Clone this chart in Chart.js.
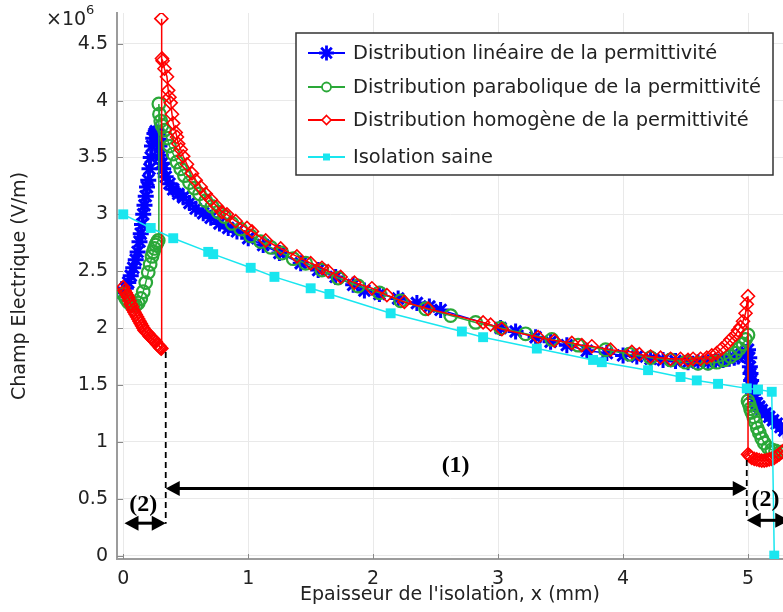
<!DOCTYPE html>
<html>
<head>
<meta charset="utf-8">
<script src="https://cdn.jsdelivr.net/npm/chart.js@4/dist/chart.umd.min.js"></script>
<style>
  html, body { margin: 0; padding: 0; background: #ffffff; }
  #wrap { width: 783px; height: 612px; }
</style>
</head>
<body>
<div id="wrap"><canvas id="c" width="783" height="612"></canvas></div>
<script>
// Electric field across the insulation thickness (values in 10^6 V/m, x in mm)

// Linear permittivity distribution
const linX = [0, 0.02, 0.04, 0.06, 0.08, 0.10, 0.115, 0.13, 0.14, 0.15, 0.16, 0.17, 0.18, 0.19, 0.20, 0.21, 0.22, 0.23, 0.24, 0.25, 0.26, 0.27, 0.28,
  0.285, 0.29, 0.30, 0.31, 0.32, 0.34, 0.37, 0.40, 0.44, 0.48, 0.53, 0.58, 0.64, 0.70, 0.77, 0.84, 0.91, 1.00, 1.12, 1.25, 1.42, 1.56, 1.70, 1.84, 1.93,
  2.05, 2.20, 2.35, 2.45, 2.54, 3.02, 3.14, 3.30, 3.42, 3.55, 3.71, 3.87, 4.00, 4.11, 4.22, 4.32, 4.42, 4.52, 4.60, 4.68, 4.74, 4.80, 4.85, 4.89, 4.92,
  4.95, 4.98, 5.00, 5.01, 5.015, 5.02, 5.025, 5.03, 5.04, 5.05, 5.07, 5.09, 5.11, 5.14, 5.17, 5.20, 5.23, 5.26, 5.29];
const linY = [2.31, 2.35, 2.40, 2.46, 2.53, 2.60, 2.67, 2.76, 2.83, 2.91, 3.00, 3.08, 3.16, 3.24, 3.30, 3.40, 3.50, 3.60, 3.67, 3.71, 3.73, 3.72, 3.70,
  3.66, 3.60, 3.52, 3.45, 3.40, 3.33, 3.27, 3.22, 3.18, 3.15, 3.10, 3.05, 3.01, 2.97, 2.92, 2.88, 2.85, 2.79, 2.73, 2.66, 2.57, 2.51, 2.45, 2.38, 2.33,
  2.30, 2.26, 2.22, 2.19, 2.16, 2.00, 1.97, 1.92, 1.88, 1.85, 1.80, 1.78, 1.76, 1.75, 1.73, 1.72, 1.71, 1.70, 1.70, 1.70, 1.71, 1.72, 1.73, 1.74, 1.75,
  1.77, 1.79, 1.81, 1.74, 1.66, 1.60, 1.54, 1.48, 1.42, 1.38, 1.34, 1.31, 1.28, 1.25, 1.22, 1.19, 1.16, 1.13, 1.10];

// Parabolic permittivity distribution
const parX = [0, 0.02, 0.04, 0.06, 0.08, 0.10, 0.12, 0.14, 0.16, 0.18, 0.20, 0.215, 0.23, 0.24, 0.25, 0.26, 0.27, 0.28,
  0.285, 0.29, 0.30, 0.31, 0.33, 0.35, 0.37, 0.40, 0.43, 0.46, 0.49, 0.53, 0.57, 0.61, 0.66, 0.71, 0.76, 0.81, 0.87, 0.94, 1.02, 1.10, 1.18, 1.27,
  1.36, 1.46, 1.59, 1.72, 1.88, 2.05, 2.22, 2.42, 2.62, 2.82, 3.02, 3.22, 3.43, 3.64, 3.86, 4.05, 4.22, 4.38, 4.50, 4.60, 4.68, 4.75, 4.81, 4.86,
  4.90, 4.93, 4.96, 4.98, 5.00, 5.00, 5.01, 5.02, 5.03, 5.045, 5.06, 5.075, 5.09, 5.11, 5.13, 5.16, 5.19, 5.22, 5.26, 5.30];
const parY = [2.30, 2.26, 2.23, 2.21, 2.20, 2.20, 2.22, 2.26, 2.32, 2.40, 2.49, 2.56, 2.63, 2.67, 2.70, 2.73, 2.75, 2.77,
  3.97, 3.88, 3.82, 3.78, 3.74, 3.67, 3.60, 3.53, 3.46, 3.40, 3.34, 3.28, 3.23, 3.18, 3.12, 3.07, 3.02, 2.98, 2.92, 2.87, 2.81, 2.76, 2.71, 2.66,
  2.61, 2.57, 2.51, 2.44, 2.37, 2.31, 2.24, 2.17, 2.11, 2.05, 2.00, 1.95, 1.90, 1.85, 1.81, 1.77, 1.74, 1.72, 1.70, 1.69, 1.69, 1.70, 1.72, 1.75,
  1.78, 1.82, 1.86, 1.90, 1.94, 1.36, 1.33, 1.29, 1.26, 1.22, 1.17, 1.12, 1.08, 1.03, 0.99, 0.95, 0.93, 0.92, 0.91, 0.91];

// Homogeneous permittivity distribution
const homX = [0, 0.01, 0.02, 0.03, 0.04, 0.05, 0.06, 0.07, 0.08, 0.09, 0.10, 0.11, 0.12, 0.13, 0.14, 0.15, 0.16, 0.17, 0.18, 0.19, 0.20, 0.21,
  0.22, 0.23, 0.24, 0.25, 0.26, 0.27, 0.28, 0.29, 0.295, 0.30, 0.305,
  0.305, 0.31, 0.315, 0.33, 0.35, 0.36, 0.37, 0.38, 0.39, 0.40, 0.42, 0.43, 0.44, 0.46, 0.48, 0.51, 0.55, 0.58, 0.62, 0.66, 0.70, 0.75, 0.79, 0.83,
  0.90, 0.99, 1.03, 1.14, 1.26, 1.39, 1.50, 1.59, 1.64, 1.74, 1.85, 1.99, 2.11, 2.25, 2.44, 2.88, 2.94, 3.03, 3.32, 3.45, 3.59, 3.67, 3.75, 3.90,
  4.07, 4.13, 4.22, 4.30, 4.38, 4.46, 4.52, 4.56, 4.62, 4.67, 4.71, 4.75, 4.79, 4.83, 4.86, 4.90, 4.92, 4.94, 4.96, 4.98, 4.99, 5.00,
  5.00, 5.01, 5.02, 5.03, 5.05, 5.07, 5.09, 5.11, 5.13, 5.15, 5.17, 5.19, 5.21, 5.23, 5.25, 5.27, 5.29];
const homY = [2.36, 2.33, 2.31, 2.29, 2.27, 2.24, 2.21, 2.19, 2.16, 2.14, 2.12, 2.10, 2.08, 2.06, 2.04, 2.02, 2.00, 1.98, 1.97, 1.96, 1.95, 1.93,
  1.92, 1.91, 1.90, 1.89, 1.88, 1.86, 1.85, 1.84, 1.83, 1.825, 1.82,
  4.72, 4.37, 4.35, 4.28, 4.21, 4.09, 4.03, 3.98, 3.88, 3.80, 3.72, 3.68, 3.62, 3.57, 3.51, 3.44, 3.36, 3.30, 3.24, 3.18, 3.13, 3.07, 3.02, 3.00,
  2.94, 2.88, 2.85, 2.77, 2.70, 2.63, 2.57, 2.53, 2.50, 2.45, 2.40, 2.35, 2.29, 2.23, 2.17, 2.05, 2.03, 1.99, 1.92, 1.89, 1.87, 1.85, 1.84, 1.81,
  1.79, 1.77, 1.75, 1.74, 1.73, 1.73, 1.72, 1.73, 1.73, 1.74, 1.76, 1.78, 1.82, 1.86, 1.90, 1.94, 1.98, 2.01, 2.06, 2.13, 2.21, 2.28,
  0.89, 0.88, 0.87, 0.86, 0.85, 0.845, 0.84, 0.835, 0.835, 0.84, 0.845, 0.85, 0.86, 0.875, 0.89, 0.91, 0.93];

// Sound insulation
const sainX = [0, 0.22, 0.40, 0.68, 0.72, 1.02, 1.21, 1.50, 1.65, 2.14, 2.71, 2.88, 3.31, 3.76, 3.83, 4.20, 4.46, 4.59, 4.76, 4.99, 5.08, 5.19, 5.21];
const sainY = [3.00, 2.88, 2.79, 2.67, 2.65, 2.53, 2.45, 2.35, 2.30, 2.13, 1.97, 1.92, 1.82, 1.72, 1.70, 1.63, 1.57, 1.54, 1.51, 1.47, 1.46, 1.44, 0.00];

const seriesNames = [
  'Distribution linéaire de la permittivité',
  'Distribution parabolique de la permittivité',
  'Distribution homogène de la permittivité',
  'Isolation saine'
];

const xTickValues = [0, 1, 2, 3, 4, 5];
const xTickLabels = ['0', '1', '2', '3', '4', '5'];
const yTickValues = [0, 0.5, 1, 1.5, 2, 2.5, 3, 3.5, 4, 4.5];
const yTickLabels = ['0', '0.5', '1', '1.5', '2', '2.5', '3', '3.5', '4', '4.5'];

// Zone markers: dashed boundaries, double arrows and their labels
const boundaryX = [0.34, 4.99];
const boundaryTop = [1.79, 0.84];
const boundaryBottom = [0.28, 0.34];
const arrowY = [0.59, 0.285, 0.31];
const arrowFrom = [0.34, 0.01, 4.99];
const arrowTo = [4.99, 0.34, 5.33];
const zoneLabels = ['(1)', '(2)', '(2)'];
const zoneLabelX = [2.66, 0.16, 5.14];
const zoneLabelY = [0.79, 0.45, 0.49];

const SANS = '"DejaVu Sans", Verdana, sans-serif';
const SERIF = '"Liberation Serif", "Times New Roman", serif';
const TEXT = '#222222';

const colors = ['#0000ff', '#2aa838', '#ff0000', '#19e6ef'];

// Let the plot area run right up to the canvas edge (markers may overflow it)
Chart.ScatterController.prototype.getMaxOverflow = function () { return 0; };

function pts(xs, ys) { return xs.map((x, i) => ({ x: x, y: ys[i] })); }

function drawMarker(ctx, style, x, y, r, color) {
  ctx.save();
  ctx.strokeStyle = color;
  ctx.fillStyle = color;
  ctx.beginPath();
  if (style === 'star') {
    ctx.lineWidth = 2.8;
    for (let k = 0; k < 4; k++) {
      const a = k * Math.PI / 4;
      ctx.moveTo(x - Math.cos(a) * r, y - Math.sin(a) * r);
      ctx.lineTo(x + Math.cos(a) * r, y + Math.sin(a) * r);
    }
    ctx.stroke();
  } else if (style === 'circle') {
    ctx.lineWidth = 1.8;
    ctx.arc(x, y, r, 0, Math.PI * 2);
    ctx.fillStyle = '#fff';
    ctx.fill();
    ctx.stroke();
  } else if (style === 'rectRot') {
    ctx.lineWidth = 1.6;
    ctx.moveTo(x, y - r); ctx.lineTo(x + r, y); ctx.lineTo(x, y + r); ctx.lineTo(x - r, y); ctx.closePath();
    ctx.fillStyle = '#fff';
    ctx.fill();
    ctx.stroke();
  } else {
    ctx.rect(x - r, y - r, 2 * r, 2 * r);
    ctx.fill();
  }
  ctx.restore();
}

function arrowHead(ctx, tipX, y, dir, len, half) {
  ctx.beginPath();
  ctx.moveTo(tipX, y);
  ctx.lineTo(tipX - dir * len, y - half);
  ctx.lineTo(tipX - dir * len, y + half);
  ctx.closePath();
  ctx.fill();
}

const decor = {
  id: 'decor',
  beforeDraw(chart) {
    const ctx = chart.ctx;
    ctx.save();
    ctx.fillStyle = '#ffffff';
    ctx.fillRect(0, 0, chart.width, chart.height);
    ctx.restore();
  },
  beforeDatasetsDraw(chart) {
    // inward tick marks
    const { ctx, chartArea: a, scales: { x, y } } = chart;
    ctx.save();
    ctx.strokeStyle = '#8a8a8a';
    ctx.lineWidth = 1;
    ctx.beginPath();
    xTickValues.forEach(v => {
      const px = Math.round(x.getPixelForValue(v)) + 0.5;
      ctx.moveTo(px, a.bottom); ctx.lineTo(px, a.bottom - 5);
    });
    yTickValues.forEach(v => {
      const py = Math.round(y.getPixelForValue(v)) + 0.5;
      ctx.moveTo(a.left, py); ctx.lineTo(a.left + 6, py);
    });
    ctx.stroke();
    ctx.restore();
  },
  afterDatasetsDraw(chart) {
    const { ctx, scales: { x, y } } = chart;
    ctx.save();
    ctx.strokeStyle = '#000';
    ctx.fillStyle = '#000';
    // dashed zone boundaries
    ctx.lineWidth = 1.8;
    ctx.setLineDash([6, 4]);
    boundaryX.forEach((bx, i) => {
      const px = x.getPixelForValue(bx);
      ctx.beginPath();
      ctx.moveTo(px, y.getPixelForValue(boundaryTop[i]));
      ctx.lineTo(px, y.getPixelForValue(boundaryBottom[i]));
      ctx.stroke();
    });
    ctx.setLineDash([]);
    // double arrows
    ctx.lineWidth = 3;
    arrowY.forEach((ay, i) => {
      const py = y.getPixelForValue(ay);
      const x1 = x.getPixelForValue(arrowFrom[i]);
      const x2 = x.getPixelForValue(arrowTo[i]);
      ctx.beginPath();
      ctx.moveTo(x1 + 8, py); ctx.lineTo(x2 - 8, py);
      ctx.stroke();
      arrowHead(ctx, x1, py, -1, 14, 7.5);
      arrowHead(ctx, x2, py, 1, 14, 7.5);
    });
    // zone labels
    ctx.font = 'bold 24px ' + SERIF;
    ctx.textAlign = 'center';
    ctx.textBaseline = 'middle';
    zoneLabels.forEach((t, i) => {
      ctx.fillText(t, x.getPixelForValue(zoneLabelX[i]), y.getPixelForValue(zoneLabelY[i]));
    });
    ctx.restore();
  },
  afterDraw(chart) {
    const ctx = chart.ctx;
    ctx.save();
    // exponent of the value axis
    ctx.fillStyle = TEXT;
    ctx.textBaseline = 'middle';
    ctx.textAlign = 'left';
    ctx.font = '19px ' + SANS;
    ctx.fillText('×10', 46, 20);
    ctx.font = '13px ' + SANS;
    ctx.fillText('6', 86, 11);

    // legend box
    const bx = 296, by = 33, bw = 477, bh = 142;
    ctx.fillStyle = '#ffffff';
    ctx.fillRect(bx, by, bw, bh);
    ctx.strokeStyle = '#333333';
    ctx.lineWidth = 1.5;
    ctx.strokeRect(bx, by, bw, bh);
    const rowsY = [53, 87, 120, 157];
    const styles = ['star', 'circle', 'rectRot', 'rect'];
    const sizes = [7.5, 4.5, 4.5, 3.5];
    ctx.font = '19.4px ' + SANS;
    seriesNames.forEach((name, i) => {
      const ry = rowsY[i];
      ctx.strokeStyle = colors[i];
      ctx.lineWidth = 2;
      ctx.beginPath();
      ctx.moveTo(308, ry); ctx.lineTo(345, ry);
      ctx.stroke();
      drawMarker(ctx, styles[i], 326.5, ry, sizes[i], colors[i]);
      ctx.fillStyle = TEXT;
      ctx.textAlign = 'left';
      ctx.textBaseline = 'middle';
      ctx.fillText(name, 353, ry + 1);
    });
    ctx.restore();
  }
};

const tickFont = { family: SANS, size: 19 };

new Chart(document.getElementById('c'), {
  type: 'scatter',
  data: {
    datasets: [
      {
        label: seriesNames[0], data: pts(linX, linY), showLine: true, order: 4,
        borderColor: colors[0], borderWidth: 1.5, pointStyle: 'star', pointRadius: 8,
        pointBorderWidth: 3, pointBorderColor: colors[0], pointBackgroundColor: colors[0]
      },
      {
        label: seriesNames[1], data: pts(parX, parY), showLine: true, order: 3,
        borderColor: colors[1], borderWidth: 1.5, pointStyle: 'circle', pointRadius: 6.3,
        pointBorderWidth: 2.2, pointBorderColor: colors[1], pointBackgroundColor: 'rgba(0,0,0,0)'
      },
      {
        label: seriesNames[2], data: pts(homX, homY), showLine: true, order: 2,
        borderColor: colors[2], borderWidth: 1.5, pointStyle: 'rectRot', pointRadius: 6.5,
        pointBorderWidth: 1.6, pointBorderColor: colors[2], pointBackgroundColor: 'rgba(0,0,0,0)'
      },
      {
        label: seriesNames[3], data: pts(sainX, sainY), showLine: true, order: 1,
        borderColor: colors[3], borderWidth: 1.5, pointStyle: 'rect', pointRadius: 7,
        pointBorderWidth: 0, pointBackgroundColor: colors[3], pointBorderColor: colors[3]
      }
    ]
  },
  options: {
    responsive: false,
    animation: false,
    events: [],
    layout: { padding: { left: 0, top: 13, right: 0, bottom: 0 } },
    plugins: { legend: { display: false }, tooltip: { enabled: false } },
    elements: { line: { tension: 0 } },
    scales: {
      x: {
        type: 'linear', min: -0.05, max: 5.28,
        afterBuildTicks: s => { s.ticks = xTickValues.map(v => ({ value: v })); },
        afterFit: s => { s.height = 53; s.paddingLeft = 0; s.paddingRight = 0; },
        ticks: { callback: (v, i) => xTickLabels[i], font: tickFont, color: TEXT, padding: 9, maxRotation: 0, autoSkip: false },
        grid: { color: '#e9e9e9', lineWidth: 1, drawTicks: false },
        border: { color: '#9c9c9c', width: 2 },
        title: { display: true, text: "Epaisseur de l'isolation, x (mm)", font: tickFont, color: TEXT, padding: { top: 0, bottom: 6 } }
      },
      y: {
        type: 'linear', min: -0.03, max: 4.77,
        afterBuildTicks: s => { s.ticks = yTickValues.map(v => ({ value: v })); },
        afterFit: s => { s.width = 117; s.paddingTop = 0; s.paddingBottom = 0; },
        ticks: { callback: (v, i) => yTickLabels[i], font: tickFont, color: TEXT, padding: 9, autoSkip: false },
        grid: { color: '#e9e9e9', lineWidth: 1, drawTicks: false },
        border: { color: '#9c9c9c', width: 2 },
        title: { display: true, text: 'Champ Electrique (V/m)', font: tickFont, color: TEXT, padding: { top: 9, bottom: 0 } }
      }
    }
  },
  plugins: [decor]
});
</script>
</body>
</html>
